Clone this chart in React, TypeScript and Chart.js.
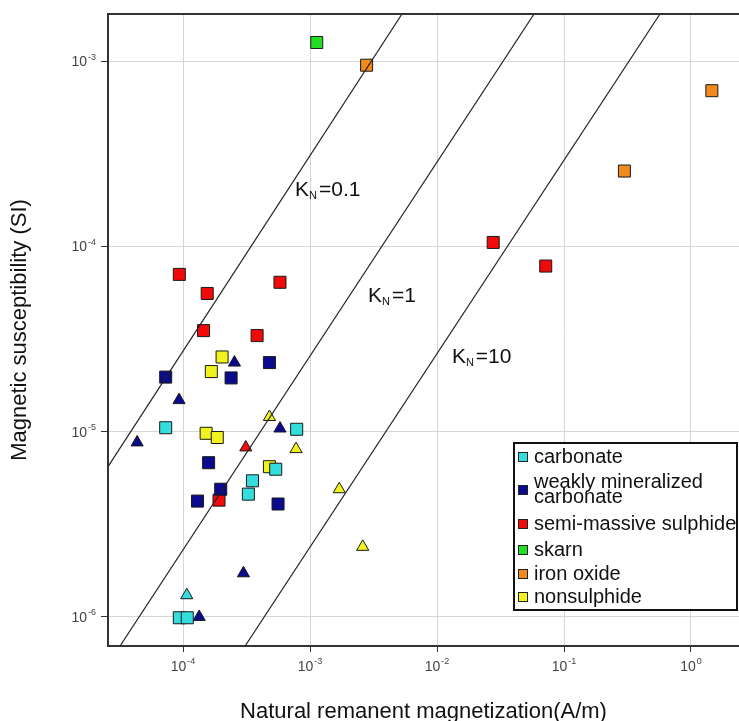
import React, { useEffect, useRef } from "react";
import { Chart, registerables } from "chart.js";

Chart.register(...registerables);

// ---------- data ----------
const xTickValues = [1e-4, 1e-3, 1e-2, 1e-1, 1];
const yTickValues = [1e-6, 1e-5, 1e-4, 1e-3];
const xAxisRange = [2.565e-5, 2.388];
const yAxisRange = [6.97e-7, 1.795e-3];

const legendLabels = ["carbonate", ["weakly mineralized", "carbonate"], "semi-massive sulphide", "skarn", "iron oxide", "nonsulphide"];

const carbonateSquares = [
  { x: 7.3e-5, y: 1.05e-5 }, { x: 7.85e-4, y: 1.03e-5 }, { x: 5.37e-4, y: 6.27e-6 },
  { x: 3.52e-4, y: 5.43e-6 }, { x: 3.27e-4, y: 4.6e-6 }, { x: 9.35e-5, y: 9.9e-7 }, { x: 1.08e-4, y: 9.9e-7 },
];
const carbonateTriangles = [{ x: 1.07e-4, y: 1.31e-6 }];

const weakCarbSquares = [
  { x: 7.3e-5, y: 1.97e-5 }, { x: 4.79e-4, y: 2.36e-5 }, { x: 2.39e-4, y: 1.95e-5 },
  { x: 1.59e-4, y: 6.8e-6 }, { x: 1.98e-4, y: 4.89e-6 }, { x: 1.3e-4, y: 4.22e-6 }, { x: 5.6e-4, y: 4.07e-6 },
];
const weakCarbTriangles = [
  { x: 2.54e-4, y: 2.36e-5 }, { x: 9.3e-5, y: 1.48e-5 }, { x: 5.8e-4, y: 1.04e-5 },
  { x: 4.35e-5, y: 8.75e-6 }, { x: 2.99e-4, y: 1.72e-6 }, { x: 1.34e-4, y: 1.0e-6 },
];

const sulphideSquares = [
  { x: 9.35e-5, y: 7.06e-5 }, { x: 1.55e-4, y: 5.57e-5 }, { x: 5.8e-4, y: 6.4e-5 },
  { x: 1.45e-4, y: 3.51e-5 }, { x: 3.83e-4, y: 3.3e-5 }, { x: 1.92e-4, y: 4.27e-6 },
  { x: 2.77e-2, y: 1.05e-4 }, { x: 7.18e-2, y: 7.83e-5 },
];
const sulphideTriangles = [{ x: 3.12e-4, y: 8.22e-6 }];

const skarnSquares = [{ x: 1.13e-3, y: 1.26e-3 }];

const ironOxideSquares = [{ x: 2.79e-3, y: 9.5e-4 }, { x: 1.46, y: 6.92e-4 }, { x: 0.299, y: 2.55e-4 }];

const nonsulphideSquares = [
  { x: 2.03e-4, y: 2.53e-5 }, { x: 1.67e-4, y: 2.11e-5 }, { x: 1.52e-4, y: 9.8e-6 },
  { x: 1.86e-4, y: 9.3e-6 }, { x: 4.79e-4, y: 6.47e-6 },
];
const nonsulphideTriangles = [
  { x: 4.79e-4, y: 1.2e-5 }, { x: 7.76e-4, y: 8.05e-6 }, { x: 1.7e-3, y: 4.89e-6 }, { x: 2.6e-3, y: 2.39e-6 },
];

// Koenigsberger ratio reference lines (end points)
const kn01Line = [{ x: 5.3e-3, y: 1.795e-3 }, { x: 2.565e-5, y: 6.47e-6 }];
const kn1Line = [{ x: 5.81e-2, y: 1.795e-3 }, { x: 3.19e-5, y: 6.97e-7 }];
const kn10Line = [{ x: 0.57, y: 1.795e-3 }, { x: 3.08e-4, y: 6.97e-7 }];
const knLabels = ["0.1", "1", "10"];
const knLabelAnchors = [{ x: 7.62e-4, y: 1.87e-4 }, { x: 2.86e-3, y: 5.0e-5 }, { x: 1.31e-2, y: 2.34e-5 }];

// ---------- styles ----------
const COLORS = ["#35DEDE", "#0A0A8C", "#F00A0A", "#22DD22", "#F08A1C", "#F2F21E"];
const FONT = "'Liberation Sans', Arial, sans-serif";

const expOf = (v: number) => String(Math.round(Math.log10(v)));

function drawPow(ctx: any, v: number, x: number, y: number, align: "center" | "right") {
  const base = "10";
  const exp = expOf(v);
  ctx.font = `14px ${FONT}`;
  const bw = ctx.measureText(base).width;
  ctx.font = `9px ${FONT}`;
  const ew = ctx.measureText(exp).width;
  const total = bw + ew + 1;
  const x0 = align === "center" ? x - total / 2 : x - total;
  ctx.textAlign = "left";
  ctx.textBaseline = "middle";
  ctx.font = `14px ${FONT}`;
  ctx.fillText(base, x0, y);
  ctx.font = `9px ${FONT}`;
  ctx.fillText(exp, x0 + bw + 1, y - 5);
}

const overlayPlugin = {
  id: "overlay",
  afterDatasetsDraw(chart: any) {
    const { ctx, scales } = chart;
    ctx.save();
    ctx.fillStyle = "#111";
    ctx.textBaseline = "alphabetic";
    knLabels.forEach((t, i) => {
      const px = scales.x.getPixelForValue(knLabelAnchors[i].x);
      const py = scales.y.getPixelForValue(knLabelAnchors[i].y);
      ctx.font = `21px ${FONT}`;
      ctx.fillText("K", px, py);
      const kw = ctx.measureText("K").width;
      ctx.font = `11px ${FONT}`;
      ctx.fillText("N", px + kw, py + 3);
      const nw = ctx.measureText("N").width;
      ctx.font = `21px ${FONT}`;
      ctx.fillText("=" + t, px + kw + nw + 2, py);
    });
    ctx.restore();
  },
  afterDraw(chart: any) {
    const { ctx, chartArea, scales } = chart;
    ctx.save();
    // top frame
    ctx.strokeStyle = "#333";
    ctx.lineWidth = 2;
    ctx.beginPath();
    ctx.moveTo(chartArea.left - 1, chartArea.top);
    ctx.lineTo(chartArea.right, chartArea.top);
    ctx.stroke();

    // tick labels
    ctx.fillStyle = "#444";
    xTickValues.forEach((v) => drawPow(ctx, v, scales.x.getPixelForValue(v), chartArea.bottom + 21, "center"));
    yTickValues.forEach((v) => drawPow(ctx, v, chartArea.left - 12, scales.y.getPixelForValue(v) + 1, "right"));

    // legend box
    const right = chartArea.right - 2;
    const left = right - 223;
    const bottom = chartArea.bottom - 36;
    const top = bottom - 167;
    ctx.fillStyle = "#fff";
    ctx.fillRect(left, top, right - left, bottom - top);
    ctx.strokeStyle = "#111";
    ctx.lineWidth = 2;
    ctx.strokeRect(left, top, right - left, bottom - top);

    const rowCenters = [14, 47, 81, 107, 131, 154];
    ctx.font = `20px ${FONT}`;
    ctx.textAlign = "left";
    ctx.textBaseline = "middle";
    legendLabels.forEach((lab, i) => {
      const cy = top + rowCenters[i];
      ctx.fillStyle = COLORS[i];
      ctx.fillRect(left + 4, cy - 5, 10, 10);
      ctx.strokeStyle = "#222";
      ctx.lineWidth = 1;
      ctx.strokeRect(left + 4.5, cy - 4.5, 9, 9);
      ctx.fillStyle = "#111";
      if (Array.isArray(lab)) {
        ctx.fillText(lab[0], left + 20, cy - 8);
        ctx.fillText(lab[1], left + 20, cy + 7);
      } else {
        ctx.fillText(lab, left + 20, cy);
      }
    });
    ctx.restore();
  },
};

function pointSet(data: any[], color: string, style: string, radius: number) {
  return {
    data,
    pointStyle: style,
    pointRadius: radius,
    pointHoverRadius: radius,
    pointBackgroundColor: color,
    pointBorderColor: "#1a1a1a",
    pointBorderWidth: 1,
    showLine: false,
  };
}

function lineSet(data: any[]) {
  return {
    data,
    showLine: true,
    pointRadius: 0,
    borderColor: "#222",
    borderWidth: 1.2,
    clip: 0,
  };
}

export default function App() {
  const ref = useRef<HTMLCanvasElement | null>(null);
  useEffect(() => {
    if (!ref.current) return;
    const SQ = 8.5;
    const TR = 7;
    const chart = new Chart(ref.current, {
      type: "scatter",
      data: {
        datasets: [
          lineSet(kn01Line),
          lineSet(kn1Line),
          lineSet(kn10Line),
          pointSet(carbonateSquares, COLORS[0], "rect", SQ),
          pointSet(carbonateTriangles, COLORS[0], "triangle", TR),
          pointSet(weakCarbSquares, COLORS[1], "rect", SQ),
          pointSet(weakCarbTriangles, COLORS[1], "triangle", TR),
          pointSet(sulphideSquares, COLORS[2], "rect", SQ),
          pointSet(sulphideTriangles, COLORS[2], "triangle", TR),
          pointSet(skarnSquares, COLORS[3], "rect", SQ),
          pointSet(ironOxideSquares, COLORS[4], "rect", SQ),
          pointSet(nonsulphideSquares, COLORS[5], "rect", SQ),
          pointSet(nonsulphideTriangles, COLORS[5], "triangle", TR),
        ] as any,
      },
      options: {
        animation: false,
        responsive: false,
        devicePixelRatio: 1,
        layout: { autoPadding: false, padding: { top: 14, right: 0, left: 0, bottom: 0 } },
        plugins: { legend: { display: false }, tooltip: { enabled: false } },
        scales: {
          x: {
            type: "logarithmic",
            min: xAxisRange[0],
            max: xAxisRange[1],
            afterBuildTicks: (s: any) => {
              s.ticks = xTickValues.map((v) => ({ value: v }));
            },
            afterFit: (s: any) => {
              s.height = 75;
              s.paddingLeft = 0;
              s.paddingRight = 0;
            },
            grid: { color: "#d6d6d6", lineWidth: 1, tickLength: 6, tickColor: "#333", tickWidth: 1 },
            border: { display: true, color: "#333", width: 2 },
            ticks: { display: false, autoSkip: false, maxRotation: 0 },
            title: {
              display: true,
              text: "Natural remanent magnetization(A/m)",
              font: { family: FONT, size: 22 },
              color: "#111",
              padding: { top: 0, bottom: -4 },
            },
          },
          y: {
            type: "logarithmic",
            min: yAxisRange[0],
            max: yAxisRange[1],
            afterBuildTicks: (s: any) => {
              s.ticks = yTickValues.map((v) => ({ value: v }));
            },
            afterFit: (s: any) => {
              s.width = 108;
              s.paddingTop = 0;
              s.paddingBottom = 0;
            },
            grid: { color: "#d6d6d6", lineWidth: 1, tickLength: 7, tickColor: "#333", tickWidth: 1 },
            border: { display: true, color: "#333", width: 2 },
            ticks: { display: false, autoSkip: false },
            title: {
              display: true,
              text: "Magnetic susceptibility (SI)",
              font: { family: FONT, size: 22 },
              color: "#111",
              padding: { top: 7, bottom: 0 },
            },
          },
        },
      } as any,
      plugins: [overlayPlugin],
    });
    return () => chart.destroy();
  }, []);

  return (
    <div style={{ position: "absolute", left: 0, top: 0, width: 739, height: 721, background: "#fff" }}>
      <canvas ref={ref} width={739} height={721} style={{ display: "block" }} />
    </div>
  );
}
